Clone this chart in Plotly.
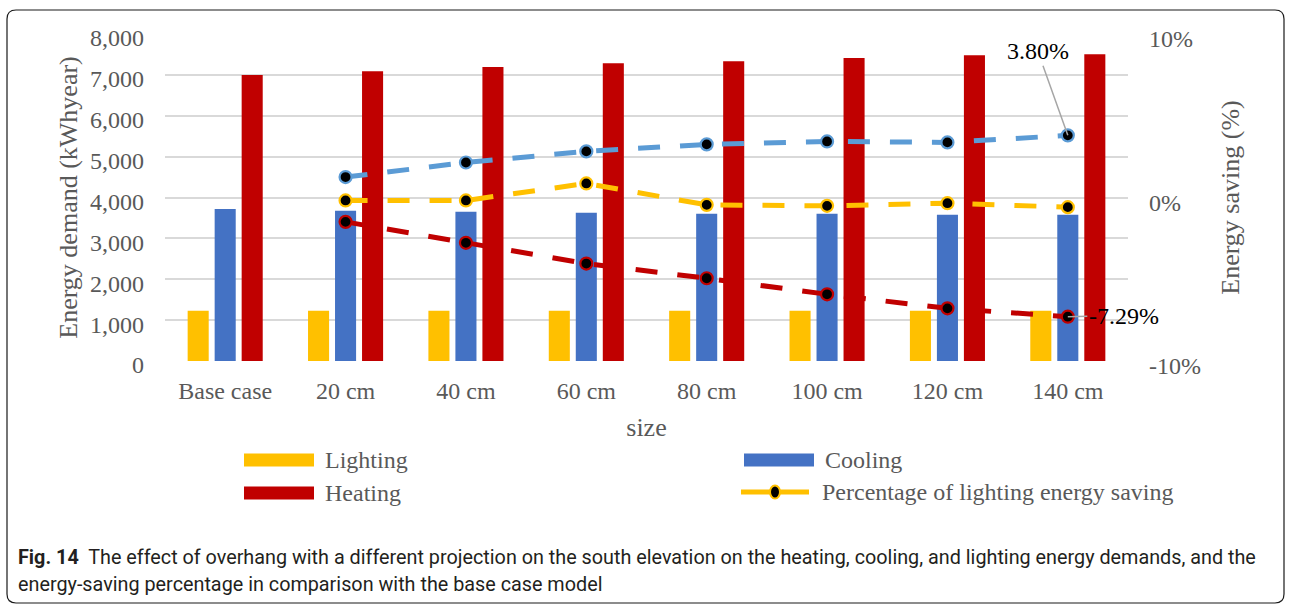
import plotly.graph_objects as go

# ---- data -------------------------------------------------------------
categories = ["Base case", "20 cm", "40 cm", "60 cm", "80 cm", "100 cm", "120 cm", "140 cm"]

lighting = [1230, 1230, 1230, 1230, 1230, 1230, 1230, 1230]
cooling = [3720, 3675, 3650, 3625, 3600, 3600, 3580, 3580]
heating = [7000, 7090, 7190, 7285, 7335, 7410, 7480, 7505]

# savings (%) for the projection cases (no value for the base case)
saving_cooling = [None, 1.25, 2.14, 2.82, 3.25, 3.43, 3.37, 3.80]
saving_lighting = [None, -0.18, -0.18, 0.86, -0.45, -0.51, -0.35, -0.59]
saving_heating = [None, -1.49, -2.77, -4.04, -4.94, -5.92, -6.78, -7.29]

bar_names = ["Lighting", "Cooling", "Heating"]
line_name = "Percentage of lighting energy saving"

left_ticks = list(range(0, 8001, 1000))
right_ticks = [-10, 0, 10]
right_tick_text = ["-10%", "0%", "10%"]

caption_head = "Fig. 14"
caption_lines = [
    "The effect of overhang with a different projection on the south elevation on the heating, cooling, and lighting energy demands, and the",
    "energy-saving percentage in comparison with the base case model",
]

# ---- style --------------------------------------------------------------
YELLOW = "#FFC000"
BLUE = "#4472C4"
RED = "#C00000"
LIGHT_BLUE = "#5B9BD5"
GREY_TXT = "#595959"
GRID = "#D9D9D9"
SERIF = "Liberation Serif, Times New Roman, serif"

W, H = 1289, 605
PL, PR, PT, PB = 165, 1128, 34, 361  # plot area in pixels


def fx(px):
    return (px - PL) / (PR - PL)


def fy(py):
    return (PB - py) / (PB - PT)


fig = go.Figure()

for name, vals, col in zip(bar_names, [lighting, cooling, heating], [YELLOW, BLUE, RED]):
    fig.add_trace(go.Bar(x=categories, y=vals, name=name, marker=dict(color=col, line=dict(width=0)),
                         showlegend=False))

for vals, col in [(saving_cooling, LIGHT_BLUE), (saving_lighting, YELLOW), (saving_heating, RED)]:
    fig.add_trace(go.Scatter(
        x=categories, y=vals, yaxis="y2", mode="lines+markers",
        line=dict(color=col, width=5, dash="22px,20px"),
        marker=dict(color="black", size=12, line=dict(color=col, width=2.2)),
        showlegend=False, connectgaps=False,
    ))

# value labels on the end points
annos = [
    dict(x=categories[-1], y=saving_cooling[-1], yref="y2", text=f"{saving_cooling[-1]:.2f}%",
         showarrow=True, arrowhead=0, arrowwidth=1.5, arrowcolor="#A6A6A6", ax=-30, ay=-84,
         font=dict(family=SERIF, size=24, color="black"), standoff=0, startstandoff=0),
    dict(x=categories[-1], y=saving_heating[-1], yref="y2", text=f"{saving_heating[-1]:.2f}%",
         showarrow=True, arrowhead=0, arrowwidth=1.5, arrowcolor="#A6A6A6", ax=56, ay=-1,
         font=dict(family=SERIF, size=24, color="black"), standoff=0, startstandoff=0),
]

# legend drawn by hand: wide swatches in two columns
shapes = []
legend_rows = [
    (244, 460, bar_names[0], YELLOW, "bar"),
    (744, 460, bar_names[1], BLUE, "bar"),
    (244, 493, bar_names[2], RED, "bar"),
    (741, 492, line_name, YELLOW, "line"),
]
for x0, yc, label, col, kind in legend_rows:
    if kind == "bar":
        shapes.append(dict(type="rect", xref="paper", yref="paper", x0=fx(x0), x1=fx(x0 + 70),
                           y0=fy(yc - 6.5), y1=fy(yc + 6.5), fillcolor=col, line=dict(width=0)))
    else:
        shapes.append(dict(type="line", xref="paper", yref="paper", x0=fx(x0), x1=fx(x0 + 68),
                           y0=fy(yc), y1=fy(yc), line=dict(color=col, width=5)))
        shapes.append(dict(type="circle", xref="paper", yref="paper", x0=fx(x0 + 29), x1=fx(x0 + 39),
                           y0=fy(yc - 6.5), y1=fy(yc + 6.5), fillcolor="black", line=dict(color=col, width=2)))
    annos.append(dict(x=fx(x0 + 79), y=fy(yc), xref="paper", yref="paper", text=label, showarrow=False,
                      xanchor="left", yanchor="middle", font=dict(family=SERIF, size=24, color=GREY_TXT)))

# rounded frame around figure and caption
x0, x1, y0, y1, r = 7, 1284, 10, 603, 9
frame = (f"M {fx(x0)},{fy(y1 - r)} L {fx(x0)},{fy(y0 + r)} Q {fx(x0)},{fy(y0)} {fx(x0 + r)},{fy(y0)} "
         f"L {fx(x1 - r)},{fy(y0)} Q {fx(x1)},{fy(y0)} {fx(x1)},{fy(y0 + r)} L {fx(x1)},{fy(y1 - r)} "
         f"Q {fx(x1)},{fy(y1)} {fx(x1 - r)},{fy(y1)} L {fx(x0 + r)},{fy(y1)} Q {fx(x0)},{fy(y1)} {fx(x0)},{fy(y1 - r)}")
shapes.append(dict(type="path", xref="paper", yref="paper", path=frame, line=dict(color="#1a1a1a", width=1.2)))

CAP_FONT = "Roboto, sans-serif"
annos.append(dict(x=fx(16), y=fy(557), xref="paper", yref="paper", showarrow=False, xanchor="left",
                  yanchor="middle", text=f"<b>{caption_head}</b>  {caption_lines[0]}",
                  font=dict(family=CAP_FONT, size=19.8, color="#231F20")))
annos.append(dict(x=fx(16), y=fy(584), xref="paper", yref="paper", showarrow=False, xanchor="left",
                  yanchor="middle", text=caption_lines[1],
                  font=dict(family=CAP_FONT, size=19.8, color="#231F20")))

fig.update_layout(
    width=W, height=H,
    margin=dict(l=PL, r=W - PR, t=PT, b=H - PB, pad=0),
    paper_bgcolor="white", plot_bgcolor="white",
    barmode="group", bargap=0.327, bargroupgap=0.22,
    showlegend=False,
    xaxis=dict(range=[-0.5, len(categories) - 0.5], tickfont=dict(family=SERIF, size=24, color=GREY_TXT),
               showgrid=False, showline=False, ticks="", ticklabelstandoff=13,
               title=dict(text="size", font=dict(family=SERIF, size=26, color=GREY_TXT), standoff=14)),
    yaxis=dict(range=[0, 8000], tickvals=left_ticks, tickformat=",d", showgrid=True, gridcolor=GRID,
               gridwidth=1.5, zeroline=False, showline=False, ticks="", ticklabelstandoff=20,
               ticklabelshift=4,
               tickfont=dict(family=SERIF, size=24, color=GREY_TXT),
               title=dict(text="Energy demand (kWhyear)", font=dict(family=SERIF, size=26, color=GREY_TXT),
                          standoff=4)),
    yaxis2=dict(range=[-10, 10], tickvals=right_ticks, ticktext=right_tick_text, overlaying="y", side="right",
                showgrid=False, zeroline=False, showline=False, ticks="", ticklabelstandoff=20,
                ticklabelshift=5,
                tickfont=dict(family=SERIF, size=24, color=GREY_TXT),
                title=dict(text="Energy saving (%)", font=dict(family=SERIF, size=26, color=GREY_TXT),
                           standoff=20)),
    annotations=annos,
    shapes=shapes,
)

fig.write_html("out.html")
